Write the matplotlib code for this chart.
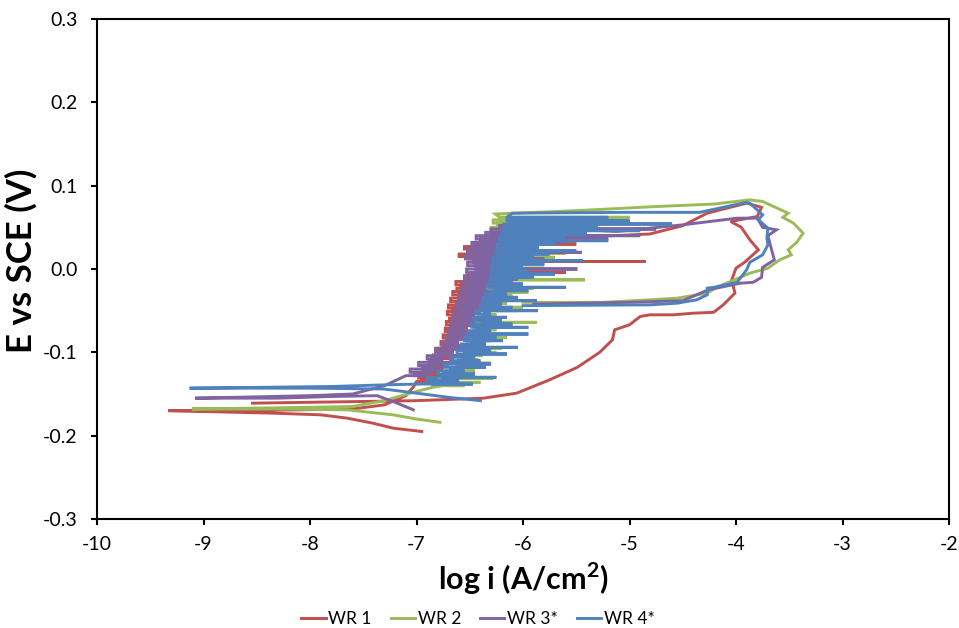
import matplotlib
matplotlib.use("Agg")
import matplotlib.pyplot as plt
from matplotlib import font_manager

names = {f.name for f in font_manager.fontManager.ttflist}
FONT = "Liberation Sans Narrow" if "Liberation Sans Narrow" in names else "Lato"
plt.rcParams['font.family'] = [FONT, 'DejaVu Sans']

series_names = ["WR 1", "WR 2", "WR 3*", "WR 4*"]
colors = ["#C0504D", "#9BBB59", "#8064A2", "#4F81BD"]

# ---------------- WR 1 ----------------
wr1_cath_x = [-6.95, -7.22, -7.41, -7.65, -7.90, -8.35, -9.33]
wr1_cath_y = [-0.195, -0.191, -0.185, -0.179, -0.175, -0.173, -0.170]
wr1_rise_x = [-8.60, -7.60, -7.30, -7.10, -7.02]
wr1_rise_y = [-0.170, -0.168, -0.163, -0.152, -0.140]
wr1_zig_y = [-0.135, -0.131, -0.127, -0.123, -0.119, -0.115, -0.111, -0.107, -0.103, -0.099,
             -0.095, -0.091, -0.087, -0.083, -0.079, -0.075, -0.071, -0.067, -0.063, -0.059,
             -0.055, -0.051, -0.047, -0.043, -0.039, -0.035, -0.031, -0.027, -0.023, -0.019,
             -0.015, -0.011, -0.007, -0.004, 0.009, 0.012, 0.015, 0.018, 0.021, 0.024,
             0.027, 0.030, 0.033]
wr1_zig_l = [-7.00, -6.95, -6.98, -6.90, -6.93, -6.85, -6.88, -6.80, -6.84, -6.78,
             -6.82, -6.74, -6.77, -6.70, -6.75, -6.68, -6.73, -6.66, -6.72, -6.69,
             -6.65, -6.71, -6.66, -6.70, -6.62, -6.68, -6.60, -6.66, -6.62, -6.58,
             -6.63, -6.55, -6.52, -6.45, -6.40, -6.35, -6.50, -6.60, -6.52, -6.48,
             -6.55, -6.45, -6.30]
wr1_zig_r = [-6.85, -6.80, -6.72, -6.78, -6.75, -6.70, -6.76, -6.65, -6.72, -6.70,
             -6.58, -6.66, -6.62, -6.55, -6.60, -6.50, -6.52, -6.60, -6.45, -6.48,
             -6.55, -6.57, -6.47, -6.50, -6.40, -6.52, -6.50, -6.42, -6.34, -6.45,
             -6.30, -6.40, -6.35, -5.60, -4.85, -6.00, -6.25, -6.10, -5.80, -6.20,
             -6.00, -5.50, -5.90]
wr1_loop_x = [-5.50, -4.81, -4.50, -4.27, -3.90, -3.76, -3.80, -4.05, -3.95, -3.87, -3.79,
              -3.92, -4.00, -4.04, -4.01, -4.12, -4.21, -4.40, -4.59, -4.81, -4.90,
              -5.00, -5.14, -5.16, -5.28, -5.49, -5.75, -6.06, -6.37, -7.00, -8.54]
wr1_loop_y = [0.038, 0.042, 0.052, 0.067, 0.079, 0.074, 0.063, 0.057, 0.050, 0.035, 0.023,
              0.008, 0.001, -0.013, -0.029, -0.043, -0.052, -0.053, -0.055, -0.055, -0.057,
              -0.067, -0.073, -0.085, -0.100, -0.118, -0.133, -0.149, -0.155, -0.158, -0.161]

# ---------------- WR 2 ----------------
wr2_cath_x = [-6.78, -7.00, -7.22, -7.65, -8.30, -9.11]
wr2_cath_y = [-0.184, -0.180, -0.175, -0.169, -0.168, -0.168]
wr2_rise_x = [-8.00, -7.60, -7.30, -7.06, -6.85]
wr2_rise_y = [-0.166, -0.165, -0.158, -0.149, -0.142]
wr2_zig_y = [-0.140, -0.136, -0.131, -0.127, -0.122, -0.118, -0.113, -0.109, -0.104, -0.100,
             -0.095, -0.091, -0.086, -0.082, -0.077, -0.073, -0.068, -0.064, -0.059, -0.055,
             -0.050, -0.046, -0.041, -0.037, -0.032, -0.028, -0.023, -0.019, -0.013, -0.009,
             -0.004, 0.001, 0.005, 0.010, 0.014, 0.019, 0.023, 0.028, 0.032, 0.037,
             0.041, 0.046, 0.050, 0.055, 0.059, 0.062]
wr2_zig_l = [-6.75, -6.70, -6.73, -6.62, -6.66, -6.58, -6.62, -6.52, -6.57, -6.48,
             -6.54, -6.45, -6.52, -6.42, -6.48, -6.40, -6.46, -6.36, -6.44, -6.38,
             -6.42, -6.33, -6.40, -6.30, -6.38, -6.32, -6.36, -6.28, -6.34, -6.27,
             -6.33, -6.26, -6.35, -6.28, -6.38, -6.30, -6.36, -6.28, -6.34, -6.26,
             -6.32, -6.25, -6.30, -6.24, -6.28, -6.22]
wr2_zig_r = [-6.55, -6.40, -6.28, -6.50, -6.45, -6.35, -6.30, -6.42, -6.38, -6.25,
             -6.20, -6.40, -6.30, -6.15, -6.40, -6.25, -6.10, -5.87, -6.20, -6.25,
             -6.05, -6.00, -6.15, -6.20, -6.10, -5.95, -5.90, -6.05, -5.42, -6.10,
             -6.00, -5.80, -6.00, -6.10, -5.70, -5.60, -5.95, -6.00, -5.70, -5.50,
             -5.85, -5.60, -5.30, -5.70, -5.20, -5.00]
wr2_loop_x = [-6.26, -5.50, -4.74, -4.20, -3.87, -3.75, -3.51, -3.56, -3.46, -3.37, -3.43,
              -3.51, -3.48, -3.59, -3.70, -3.87, -3.96, -4.18, -4.27, -4.55, -4.81, -5.25, -6.00]
wr2_loop_y = [0.066, 0.070, 0.075, 0.078, 0.083, 0.081, 0.067, 0.062, 0.055, 0.043, 0.032,
              0.023, 0.017, 0.011, 0.001, -0.005, -0.010, -0.022, -0.029, -0.035, -0.037, -0.040, -0.040]

# ---------------- WR 3* ----------------
wr3_cath_x = [-7.03, -7.20, -7.37, -7.80, -8.30, -9.08]
wr3_cath_y = [-0.169, -0.160, -0.152, -0.153, -0.155, -0.155]
wr3_rise_x = [-8.00, -7.60, -7.30, -7.15]
wr3_rise_y = [-0.152, -0.150, -0.140, -0.131]
wr3_zig_y = [-0.128, -0.124, -0.120, -0.116, -0.112, -0.108, -0.104, -0.100, -0.096, -0.092,
             -0.088, -0.084, -0.080, -0.076, -0.072, -0.068, -0.064, -0.060, -0.056, -0.052,
             -0.048, -0.044, -0.040, -0.036, -0.032, -0.028, -0.024, -0.020, -0.016, -0.012,
             -0.008, -0.004, 0.000, 0.004, 0.008, 0.012, 0.016, 0.020, 0.024, 0.028,
             0.032, 0.036, 0.040, 0.044, 0.048, 0.052]
wr3_zig_l = [-7.10, -7.02, -7.06, -6.94, -6.98, -6.86, -6.90, -6.78, -6.82, -6.70,
             -6.76, -6.66, -6.72, -6.62, -6.70, -6.60, -6.68, -6.58, -6.66, -6.56,
             -6.64, -6.55, -6.62, -6.52, -6.60, -6.50, -6.58, -6.49, -6.56, -6.48,
             -6.55, -6.45, -6.53, -6.44, -6.52, -6.46, -6.54, -6.42, -6.52, -6.44,
             -6.48, -6.40, -6.44, -6.35, -6.30, -6.22]
wr3_zig_r = [-6.90, -6.85, -6.80, -6.70, -6.60, -6.75, -6.45, -6.65, -6.55, -6.40,
             -6.60, -6.50, -6.35, -6.40, -6.55, -6.30, -6.45, -6.25, -6.45, -6.40,
             -6.30, -6.20, -6.35, -6.25, -6.30, -6.15, -6.35, -6.25, -6.10, -6.05,
             -6.20, -5.95, -5.49, -6.00, -6.20, -5.80, -6.10, -5.45, -5.90, -6.00,
             -5.60, -5.20, -4.90, -5.40, -4.75, -5.60]
wr3_loop_x = [-5.12, -4.50, -3.99, -3.80, -3.75, -3.62, -3.70, -3.67, -3.64, -3.75, -3.76,
              -3.84, -3.96, -4.26, -4.50, -5.00, -5.90]
wr3_loop_y = [0.045, 0.053, 0.061, 0.061, 0.050, 0.047, 0.040, 0.025, 0.011, 0.002, -0.010,
              -0.016, -0.017, -0.025, -0.038, -0.040, -0.042]

# ---------------- WR 4* ----------------
wr4_cath_x = [-6.40, -6.70, -7.00, -7.31, -8.00, -9.13]
wr4_cath_y = [-0.158, -0.154, -0.149, -0.144, -0.143, -0.143]
wr4_rise_x = [-7.80, -7.30]
wr4_rise_y = [-0.141, -0.139]
wr4_zig_y = [-0.138, -0.134, -0.130, -0.126, -0.122, -0.118, -0.114, -0.110, -0.106, -0.102,
             -0.098, -0.094, -0.090, -0.086, -0.082, -0.078, -0.074, -0.070, -0.066, -0.062,
             -0.058, -0.054, -0.050, -0.046, -0.042, -0.038, -0.034, -0.030, -0.026, -0.022,
             -0.018, -0.014, -0.010, -0.006, -0.002, 0.002, 0.006, 0.010, 0.014, 0.018,
             0.022, 0.026, 0.030, 0.034, 0.038, 0.042, 0.046, 0.050, 0.054, 0.058, 0.062]
wr4_zig_l = [-6.95, -6.85, -6.90, -6.75, -6.80, -6.68, -6.74, -6.60, -6.68, -6.55,
             -6.62, -6.52, -6.58, -6.48, -6.55, -6.45, -6.52, -6.42, -6.48, -6.38,
             -6.46, -6.36, -6.44, -6.33, -6.40, -6.32, -6.38, -6.28, -6.35, -6.26,
             -6.33, -6.24, -6.31, -6.22, -6.30, -6.22, -6.29, -6.20, -6.28, -6.18,
             -6.26, -6.17, -6.24, -6.15, -6.22, -6.16, -6.20, -6.14, -6.18, -6.12, -6.15]
wr4_zig_r = [-6.47, -6.60, -6.25, -6.45, -6.55, -6.35, -6.30, -6.40, -6.45, -6.15,
             -6.30, -6.05, -6.35, -6.19, -6.25, -5.95, -6.30, -5.95, -6.10, -6.20,
             -6.15, -6.30, -5.86, -6.10, -6.20, -5.87, -6.05, -6.15, -5.95, -5.60,
             -6.00, -6.10, -5.90, -5.70, -5.95, -6.00, -5.80, -5.44, -5.90, -5.75,
             -5.50, -5.85, -5.70, -5.20, -5.60, -5.40, -4.90, -5.30, -4.60, -5.00, -5.20]
wr4_loop_x = [-6.10, -5.00, -4.34, -3.90, -3.87, -3.75, -3.79, -3.70, -3.71, -3.70, -3.75,
              -3.87, -3.90, -3.99, -4.21, -4.27, -4.27, -4.37, -4.55, -4.81, -6.00]
wr4_loop_y = [0.067, 0.068, 0.068, 0.080, 0.079, 0.065, 0.059, 0.049, 0.037, 0.029, 0.017,
              0.008, -0.001, -0.016, -0.022, -0.023, -0.031, -0.037, -0.041, -0.043, -0.044]

data = [
    (wr1_cath_x, wr1_cath_y, wr1_rise_x, wr1_rise_y, wr1_zig_y, wr1_zig_l, wr1_zig_r, wr1_loop_x, wr1_loop_y),
    (wr2_cath_x, wr2_cath_y, wr2_rise_x, wr2_rise_y, wr2_zig_y, wr2_zig_l, wr2_zig_r, wr2_loop_x, wr2_loop_y),
    (wr3_cath_x, wr3_cath_y, wr3_rise_x, wr3_rise_y, wr3_zig_y, wr3_zig_l, wr3_zig_r, wr3_loop_x, wr3_loop_y),
    (wr4_cath_x, wr4_cath_y, wr4_rise_x, wr4_rise_y, wr4_zig_y, wr4_zig_l, wr4_zig_r, wr4_loop_x, wr4_loop_y),
]

fig = plt.figure(figsize=(9.59, 6.28), dpi=100)
ax = fig.add_axes([97/959, 1-519/628, (949-97)/959, (519-19)/628])

for name, col, d in zip(series_names, colors, data):
    cx, cy, rx, ry, zy, zl, zr, lx, ly = d
    xs = list(cx) + list(rx)
    ys = list(cy) + list(ry)
    n = len(zy)
    for i in range(n):
        back = zl[i + 1] if i + 1 < n else zl[i]
        xs += [zl[i], zr[i], back]
        ys += [zy[i], zy[i], zy[i]]
    xs += list(lx)
    ys += list(ly)
    ax.plot(xs, ys, color=col, lw=2.1, label=name, solid_joinstyle='miter')

ax.set_xlim(-10, -2)
ax.set_ylim(-0.3, 0.3)
yt = [-0.3, -0.2, -0.1, 0.0, 0.1, 0.2, 0.3]
ax.set_xticks(range(-10, -1))
ax.set_xticklabels([str(v) for v in range(-10, -1)])
ax.set_yticks(yt)
ax.set_yticklabels([f"{v:.1f}" for v in yt])
for s in ax.spines.values():
    s.set_linewidth(1.5)
ax.tick_params(direction='out', length=4, width=1.5, labelsize=14)
ax.tick_params(axis='x', pad=8)
ax.tick_params(axis='y', pad=10)

ax.set_xlabel("log i (A/cm$^\\mathregular{2}$)", fontsize=22, fontweight='bold', labelpad=6)
ax.set_ylabel("E vs SCE (V)", fontsize=25, fontweight='bold', labelpad=4)
ax.yaxis.label.set_y(0.516)

ax.legend(loc='center', bbox_to_anchor=(0.447, -0.2), ncol=4, frameon=False,
          fontsize=12.5, handlelength=1.4, handletextpad=0.15, columnspacing=1.1,
          borderaxespad=0, borderpad=0)

fig.savefig("out.png", dpi=100)
